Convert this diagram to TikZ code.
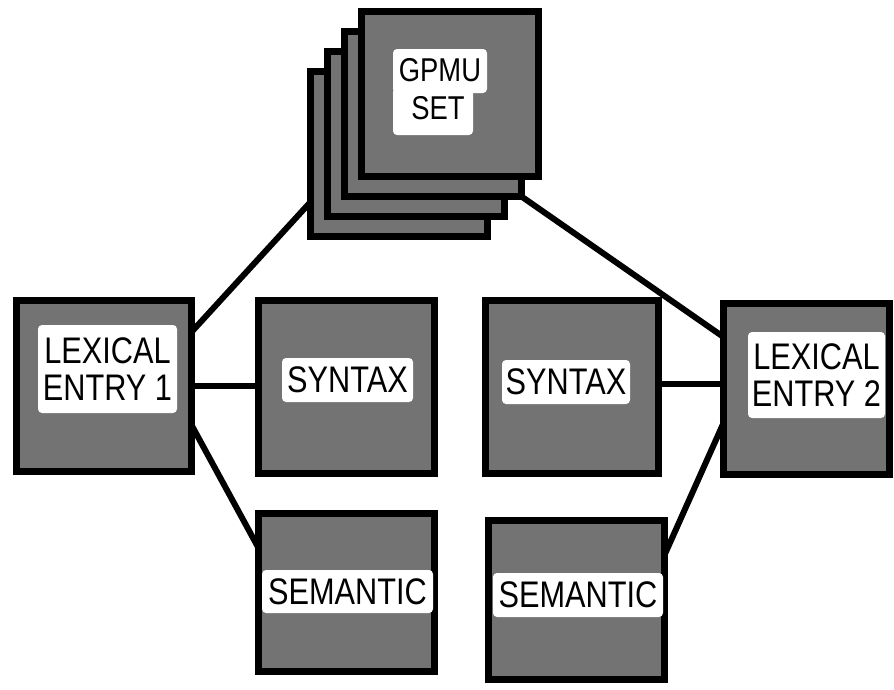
\documentclass[tikz,border=0pt]{standalone}
\usepackage{fontspec}
\newfontfamily\lblfont[FakeStretch=0.83]{Liberation Sans}
\usetikzlibrary{backgrounds}
\begin{document}
\begin{tikzpicture}[x=1pt,y=-1pt,
  box/.style={rectangle, draw=black, line width=7pt, fill=black!55, inner sep=0pt, outer sep=0pt},
  lbl/.style={rectangle, fill=white, rounded corners=4pt, inner sep=0pt, outer sep=0pt, align=center, text=black,
              font=\lblfont\fontsize{37}{37}\selectfont},
  gtxt/.style={inner sep=0pt, outer sep=0pt, text=black, font=\lblfont\fontsize{33}{33}\selectfont},
  conn/.style={draw=black, line width=6pt}]
\useasboundingbox (0,0) rectangle (894,689);

% GPMU stack (back to front)
\node[box, minimum width=177pt, minimum height=165pt] (gp3) at (399,154) {};
\node[box, minimum width=177pt, minimum height=165pt] (gp2) at (416,134) {};
\node[box, minimum width=177pt, minimum height=165pt] (gp1) at (433,114) {};
\node[box, minimum width=177pt, minimum height=165pt] (gp0) at (450,94) {};
\node[lbl, minimum width=94pt, minimum height=44pt] (gpw1) at (440,71) {};
\node[lbl, minimum width=80pt, minimum height=47pt] (gpw2) at (433,111.5) {};
\node[gtxt] (gpt1) at (440,70) {GPMU};
\node[gtxt] (gpt2) at (438,108.5) {SET};

% lexical entries, syntax, semantic
\node[box, minimum width=175pt, minimum height=171pt] (lex1) at (104,386) {};
\node[lbl, minimum width=139pt, minimum height=88pt] (lexl1) at (107.5,369) {LEXICAL\\ENTRY 1};

\node[box, minimum width=176pt, minimum height=173pt] (syn1) at (346.5,387) {};
\node[lbl, minimum width=131pt, minimum height=44pt] (synl1) at (347.5,380) {SYNTAX};

\node[box, minimum width=173pt, minimum height=173pt] (syn2) at (572,387) {};
\node[lbl, minimum width=128pt, minimum height=44pt] (synl2) at (566,382) {SYNTAX};

\node[box, minimum width=166pt, minimum height=171pt] (lex2) at (806.5,389) {};
\node[lbl, minimum width=137pt, minimum height=86pt] (lexl2) at (816.5,375) {LEXICAL\\ENTRY 2};

\node[box, minimum width=176pt, minimum height=158pt] (sem1) at (346.5,592.5) {};
\node[lbl, minimum width=171pt, minimum height=43pt] (seml1) at (347.5,591.5) {SEMANTIC};

\node[box, minimum width=176pt, minimum height=159pt] (sem2) at (576.5,600) {};
\node[lbl, minimum width=170pt, minimum height=44pt] (seml2) at (578,595) {SEMANTIC};

% connectors
\begin{scope}[on background layer]
\draw[conn] ([yshift=54pt]lex1.east) -- ([yshift=-48pt]gp3.west);
\draw[conn] (lex1.east) -- (lex1.east -| syn1.west);
\draw[conn] ([yshift=-39pt]lex1.east) -- ([yshift=44.5pt]sem1.west);
\draw[conn] (gp1.south east) -- ([yshift=52pt]lex2.west);
\draw[conn] ([yshift=3pt]syn2.east) -- ([yshift=3pt]syn2.east -| lex2.west);
\draw[conn] ([yshift=-34pt]lex2.west) -- ([yshift=45pt]sem2.east);
\end{scope}
\end{tikzpicture}
\end{document}
